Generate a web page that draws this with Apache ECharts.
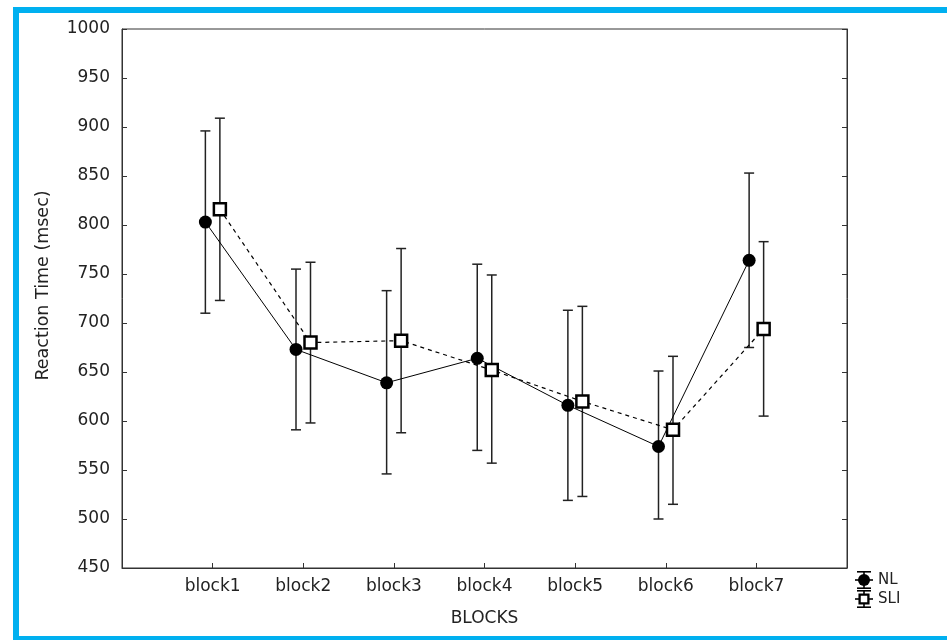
<!DOCTYPE html>
<html>
<head>
<meta charset="utf-8">
<script src="https://cdn.jsdelivr.net/npm/echarts@6/dist/echarts.min.js"></script>
<style>
  html, body { margin: 0; padding: 0; background: #fff; }
  #frame { position: absolute; left: 13px; top: 7px; width: 960px; height: 623px; border: 6px solid #00b0f0; background: #fff; }
  #chart { position: absolute; left: 0; top: 0; width: 947px; height: 640px; }
</style>
</head>
<body>
<div id="frame"></div>
<div id="chart"></div>
<script>
const categories = ['block1', 'block2', 'block3', 'block4', 'block5', 'block6', 'block7'];
const nlMean = [803, 673, 639, 664, 616, 574, 764];
const nlLow  = [710, 591, 546, 570, 519, 500, 675];
const nlHigh = [896, 755, 733, 760, 713, 651, 853];
const sliMean = [816, 680, 682, 652, 620, 591, 694];
const sliLow  = [723, 598, 588, 557, 523, 515, 605];
const sliHigh = [909, 762, 776, 749, 717, 666, 783];
const yTicks = { min: 450, max: 1000, interval: 50 };
const seriesNames = ['NL', 'SLI'];
const offset = 0.08;

const FONT = 'DejaVu Sans';
const TXT = '#222';

const nlPts = nlMean.map((v, i) => [i + 1 - offset, v]);
const sliPts = sliMean.map((v, i) => [i + 1 + offset, v]);
const nlErr = nlMean.map((v, i) => [i + 1 - offset, nlLow[i], nlHigh[i]]);
const sliErr = sliMean.map((v, i) => [i + 1 + offset, sliLow[i], sliHigh[i]]);

function errRender(params, api) {
  const x = api.value(0);
  const lo = api.coord([x, api.value(1)]);
  const hi = api.coord([x, api.value(2)]);
  const w = 5;
  const style = { stroke: '#222', lineWidth: 1.5 };
  return {
    type: 'group',
    children: [
      { type: 'line', shape: { x1: lo[0], y1: lo[1], x2: hi[0], y2: hi[1] }, style },
      { type: 'line', shape: { x1: lo[0] - w, y1: lo[1], x2: lo[0] + w, y2: lo[1] }, style },
      { type: 'line', shape: { x1: hi[0] - w, y1: hi[1], x2: hi[0] + w, y2: hi[1] }, style }
    ]
  };
}

// legend icon pieces (rects), relative to each icon's top-left
const K = { fill: '#000' };
function whisker(y0) {
  return [
    { type: 'rect', shape: { x: 2, y: y0, width: 14, height: 1.6 }, style: K },
    { type: 'rect', shape: { x: 2, y: y0 + 16.4, width: 14, height: 1.6 }, style: K },
    { type: 'rect', shape: { x: 8.2, y: y0, width: 1.6, height: 18 }, style: K },
    { type: 'rect', shape: { x: 0, y: y0 + 8.2, width: 18, height: 1.6 }, style: K }
  ];
}

const chart = echarts.init(document.getElementById('chart'));
chart.setOption({
  animation: false,
  textStyle: { fontFamily: FONT },
  grid: { left: 122, right: 100, top: 29, bottom: 72, show: true, borderColor: '#333', borderWidth: 1, backgroundColor: 'transparent' },
  graphic: [{
    type: 'group', left: 855, top: 571,
    children: [].concat(
      whisker(0),
      [{ type: 'circle', shape: { cx: 9, cy: 9, r: 6 }, style: K },
       { type: 'text', x: 23, y: 9, style: { text: seriesNames[0], fill: TXT, font: '15px "DejaVu Sans"', verticalAlign: 'middle' } }],
      whisker(19),
      [{ type: 'rect', shape: { x: 4.6, y: 19 + 4.6, width: 8.8, height: 8.8 }, style: { fill: '#fff', stroke: '#000', lineWidth: 2.3 } },
       { type: 'text', x: 23, y: 28, style: { text: seriesNames[1], fill: TXT, font: '15px "DejaVu Sans"', verticalAlign: 'middle' } }]
    )
  }],
  xAxis: {
    type: 'value', min: 0, max: 8, interval: 1,
    name: 'BLOCKS', nameLocation: 'middle', nameGap: 42,
    nameTextStyle: { fontFamily: FONT, fontSize: 17, color: TXT },
    axisLine: { lineStyle: { color: '#333', width: 1 } },
    axisTick: { inside: true, length: 5, lineStyle: { color: '#333' } },
    axisLabel: { margin: 10, fontSize: 17, color: TXT, fontFamily: FONT, formatter: v => categories[v - 1] || '' },
    splitLine: { show: false }
  },
  yAxis: [
    {
      type: 'value', min: yTicks.min, max: yTicks.max, interval: yTicks.interval,
      name: 'Reaction Time (msec)', nameLocation: 'middle', nameGap: 70,
      nameTextStyle: { fontFamily: FONT, fontSize: 17.5, color: TXT, padding: [0, 0, 0, 26] },
      axisLine: { show: true, lineStyle: { color: '#333', width: 1 } },
      axisTick: { inside: true, length: 5, lineStyle: { color: '#333' } },
      axisLabel: { margin: 12, fontSize: 17, color: TXT, fontFamily: FONT, formatter: v => String(v) },
      splitLine: { show: false }
    },
    {
      type: 'value', min: yTicks.min, max: yTicks.max, interval: yTicks.interval, position: 'right',
      axisLine: { show: true, lineStyle: { color: '#333', width: 1 } },
      axisTick: { inside: true, length: 5, lineStyle: { color: '#333' } },
      axisLabel: { show: false },
      splitLine: { show: false }
    }
  ],
  series: [
    { name: 'NLerr', type: 'custom', renderItem: errRender, data: nlErr, z: 1, silent: true },
    { name: 'SLIerr', type: 'custom', renderItem: errRender, data: sliErr, z: 1, silent: true },
    {
      name: seriesNames[0], type: 'line', data: nlPts, z: 3,
      symbol: 'circle', symbolSize: 13,
      lineStyle: { color: '#000', width: 1 },
      itemStyle: { color: '#000' }
    },
    {
      name: seriesNames[1], type: 'line', data: sliPts, z: 4,
      symbol: 'rect', symbolSize: 12,
      lineStyle: { color: '#000', width: 1.2, type: [4, 4] },
      itemStyle: { color: '#fff', borderColor: '#000', borderWidth: 2.5 }
    }
  ]
});
</script>
</body>
</html>
